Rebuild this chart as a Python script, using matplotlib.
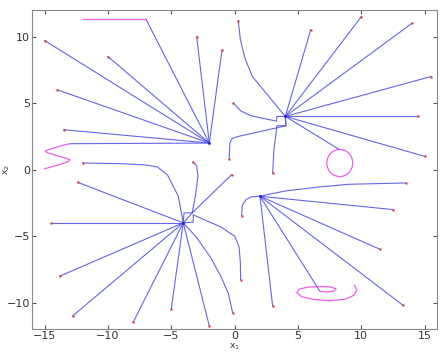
import numpy as np
import matplotlib
matplotlib.use("Agg")
from matplotlib import pyplot as plt
from matplotlib.patches import Circle

# attractor points
attractors = [(-2, 2), (4, 4), (-4.06, -4.0), (2, -2)]

# trajectories, each one a list of (x1, x2) points, start -> end
traj_a1 = [
    [(-15, 9.7), (-2, 2)],
    [(-10, 8.5), (-2, 2)],
    [(-14, 6), (-2, 2)],
    [(-13.5, 3), (-2, 2)],
    [(-13, 1.95), (-2, 2)],
    [(-7, 11.3), (-2, 2)],
    [(-3, 10), (-2, 2)],
    [(-1, 9), (-2, 2)],
]
traj_a2 = [
    [(0.28, 11.2), (0.45, 9.8), (0.8, 8.4), (1.4, 7.0), (4, 4)],
    [(6, 10.5), (4, 4)],
    [(10, 11.5), (4, 4)],
    [(14, 11), (4, 4)],
    [(15.5, 7), (4, 4)],
    [(14.5, 4), (4, 4)],
    [(15, 1), (4, 4)],
    [(8.2, 1.55), (4, 4)],
    [(-0.1, 5.0), (0.5, 4.4), (1.3, 4.05), (2.1, 3.88), (3.3, 3.65), (3.34, 4.0), (4, 4)],
    [(-0.43, 0.83), (-0.38, 2.0), (-0.2, 2.35), (0.3, 2.5), (4.05, 3.3), (4, 4)],
    [(3.0, -0.25), (3.1, 1.5), (3.34, 3.3), (4.05, 3.3), (4, 4)],
]
traj_a3 = [
    [(-12.4, -0.95), (-4.06, -4.0)],
    [(-14.5, -4), (-4.06, -4.0)],
    [(-13.8, -8), (-4.06, -4.0)],
    [(-12.8, -11), (-4.06, -4.0)],
    [(-8, -11.45), (-4.06, -4.0)],
    [(-5, -10.45), (-4.06, -4.0)],
    [(-2, -11.75), (-4.06, -4.0)],
    [(-0.16, -10.75), (-0.5, -9.3), (-1.1, -8.0), (-1.9, -6.6), (-3.0, -5.1), (-4.06, -4.0)],
    [(0.47, -8.27), (0.45, -7.0), (0.35, -5.8), (0.0, -5.0), (-1.1, -4.3), (-3.27, -3.4),
     (-3.27, -3.95), (-4.06, -4.0)],
    [(-0.24, -0.38), (-3.35, -3.25), (-4.06, -4.0)],
    [(-3.3, 0.55), (-3.0, 0.3), (-2.9, -0.5), (-3.1, -2.0), (-3.35, -3.25), (-4.0, -3.25),
     (-4.06, -4.0)],
    [(-12, 0.5), (-9, 0.45), (-7, 0.35), (-6.1, 0.2), (-5.3, -0.4), (-4.45, -2.0), (-4.06, -4.0)],
]
traj_a4 = [
    [(13.5, -1), (9, -1.1), (6.7, -1.3), (4, -1.6), (2, -2)],
    [(12.5, -3), (2, -2)],
    [(11.5, -6), (2, -2)],
    [(13.3, -10.2), (2, -2)],
    [(6.7, -9.1), (2, -2)],
    [(3, -10.25), (2, -2)],
    [(0.55, -3.45), (0.6, -2.7), (0.9, -2.25), (1.3, -2.05), (2, -2)],
]
# starting points shown in red
starts = [(-15, 9.7), (-10, 8.5), (-14, 6), (-13.5, 3), (-3, 10), (-1, 9),
          (0.28, 11.2), (6, 10.5), (10, 11.5), (14, 11), (15.5, 7), (14.5, 4), (15, 1),
          (-0.1, 5.0), (-0.43, 0.83), (3.0, -0.25),
          (-12.4, -0.95), (-14.5, -4), (-13.8, -8), (-12.8, -11), (-8, -11.45), (-5, -10.45),
          (-2, -11.75), (-0.16, -10.75), (0.47, -8.27), (-0.24, -0.38), (-3.3, 0.55), (-12, 0.5),
          (13.5, -1), (12.5, -3), (11.5, -6), (13.3, -10.2), (3, -10.25), (0.55, -3.45)]

# magenta input curves
wave_x = [-13, -13.5, -14.3, -14.85, -14.95, -14.7, -14.0, -13.3, -13.0, -13.1, -13.7, -14.5, -15]
wave_y = [1.95, 1.85, 1.62, 1.45, 1.37, 1.25, 1.05, 0.85, 0.75, 0.62, 0.42, 0.2, 0.07]
hline_x = [-12, -7]
hline_y = [11.3, 11.3]
circle_center = (8.3, 0.5)
circle_r = 1.02
spiral_x = [9.45, 9.65, 9.4, 8.7, 7.5, 6.2, 5.3, 4.9, 5.1, 5.8, 6.8, 7.6, 8.0, 7.85, 7.3, 6.8, 6.7]
spiral_y = [-8.7, -9.05, -9.45, -9.75, -9.85, -9.75, -9.55, -9.25, -8.98, -8.83, -8.78, -8.82,
            -8.95, -9.12, -9.2, -9.15, -9.1]

blue = '#4a4ae6'
mag = '#ee5cee'

fig = plt.figure(figsize=(4.42, 3.53), dpi=100)
ax = fig.add_axes([0.0724, 0.0671, 0.917, 0.9046])

for group in (traj_a1, traj_a2, traj_a3, traj_a4):
    for tr in group:
        xs, ys = zip(*tr)
        ax.plot(xs, ys, color=blue, lw=0.8, alpha=0.85)

ax.plot(wave_x, wave_y, color=mag, lw=0.9)
ax.plot(hline_x, hline_y, color=mag, lw=0.9)
ax.plot(spiral_x, spiral_y, color=mag, lw=0.9)
ax.add_patch(Circle(circle_center, circle_r, fill=False, ec=mag, lw=0.9))

sx, sy = zip(*starts)
ax.plot(sx, sy, 's', color='#ee2222', ms=1.6, mec='none')
axx, axy = zip(*attractors)
ax.plot(axx, axy, 'o', color='#2222cc', ms=2, mec='none')

ax.set_xlim(-16, 16)
ax.set_ylim(-12, 12)
ax.set_xticks([-15, -10, -5, 0, 5, 10, 15])
ax.set_yticks([-10, -5, 0, 5, 10])
ax.tick_params(direction='in', top=True, right=True, length=3, labelsize=8, pad=1.5,
               colors='#555555', labelcolor='#333333')
for s in ax.spines.values():
    s.set_color('#888888')
    s.set_linewidth(0.8)
ax.set_xlabel('x$_1$', fontsize=6.5, color='#333333', va='center')
ax.set_ylabel('x$_2$', fontsize=6.5, color='#333333', va='center')
ax.xaxis.set_label_coords(0.5, -0.054)
ax.yaxis.set_label_coords(-0.062, 0.5)

plt.savefig('out.png', dpi=100)
